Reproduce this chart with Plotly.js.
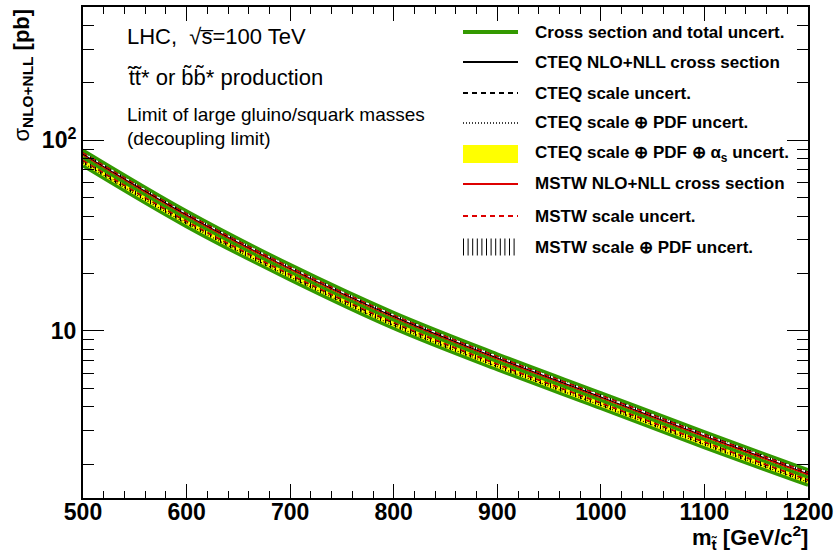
<!DOCTYPE html>
<html>
<head>
<meta charset="utf-8">
<script src="https://cdn.plot.ly/plotly-3.0.1.min.js"></script>
<style>html,body{margin:0;padding:0;background:#fff;}#chart{width:835px;height:558px;}</style>
</head>
<body>
<div id="chart"></div>
<script>
// ---- data ----
const mass = [500, 600, 700, 800, 900, 1000, 1100, 1200];
const totalCentral = [81.1, 38.9, 20.4, 11.4, 6.92, 4.33, 2.70, 1.71];
const totalUp      = [88.8, 42.6, 22.3, 12.5, 7.58, 4.74, 2.96, 1.87];
const totalDown    = [73.4, 35.2, 18.5, 10.3, 6.26, 3.92, 2.44, 1.55];
const cteqCentral  = [84.3, 40.5, 21.2, 11.9, 7.20, 4.50, 2.81, 1.78];
const cteqScaleUp  = [86.4, 41.4, 21.7, 12.1, 7.37, 4.61, 2.88, 1.82];
const cteqScaleDn  = [78.3, 37.5, 19.7, 11.0, 6.68, 4.18, 2.61, 1.65];
const cteqPdfUp    = [87.2, 41.8, 21.9, 12.3, 7.44, 4.65, 2.90, 1.84];
const cteqPdfDn    = [76.2, 36.6, 19.2, 10.7, 6.50, 4.07, 2.54, 1.61];
const cteqAsUp     = [83.9, 40.3, 21.1, 11.8, 7.16, 4.48, 2.79, 1.77];
const cteqAsDn     = [74.2, 35.6, 18.7, 10.4, 6.33, 3.96, 2.47, 1.56];
const mstwCentral  = [83.4, 40.0, 21.0, 11.7, 7.11, 4.45, 2.78, 1.76];
const mstwScaleUp  = [86.0, 41.2, 21.6, 12.1, 7.34, 4.59, 2.86, 1.81];
const mstwScaleDn  = [78.7, 37.7, 19.8, 11.1, 6.71, 4.20, 2.62, 1.66];
const mstwPdfUp    = [87.6, 42.0, 22.0, 12.3, 7.47, 4.68, 2.92, 1.85];
const mstwPdfDn    = [75.0, 36.0, 18.9, 10.5, 6.40, 4.01, 2.50, 1.58];

const yTickVals = [10, 100];
const yTickText = ['10', '10<sup>2</sup>'];
const yMinorVals = [2,3,4,5,6,7,8,9,20,30,40,50,60,70,80,90,200,300,400,500];

const legendLabels = [
  'Cross section and total uncert.',
  'CTEQ NLO+NLL cross section',
  'CTEQ scale uncert.',
  'CTEQ scale \u2295 PDF uncert.',
  'CTEQ scale \u2295 PDF \u2295 \u03b1<sub>s</sub> uncert.',
  'MSTW NLO+NLL cross section',
  'MSTW scale uncert.',
  'MSTW scale \u2295 PDF uncert.'
];

// ---- layout geometry ----
const W = 835, H = 558;
const L = 83, R = 808, T = 7, B = 498;
const px = x => (x - L) / (R - L);
const py = y => (B - y) / (B - T);
const FONT = 'Liberation Sans, Arial, Helvetica, sans-serif';

function line(y, color, width, dash) {
  return {x: mass, y: y, type: 'scatter', mode: 'lines', showlegend: false, hoverinfo: 'skip',
          line: {color: color, width: width, dash: dash || 'solid', shape: 'spline'}};
}
function bandLow(y) {
  return {x: mass, y: y, type: 'scatter', mode: 'lines', showlegend: false, hoverinfo: 'skip',
          line: {width: 0, shape: 'spline', color: 'rgba(0,0,0,0)'}};
}

const traces = [
  bandLow(cteqAsDn),
  {x: mass, y: cteqAsUp, type: 'scatter', mode: 'lines', fill: 'tonexty', fillcolor: '#ffff00',
   showlegend: false, hoverinfo: 'skip', line: {width: 0, shape: 'spline', color: 'rgba(0,0,0,0)'}},
  bandLow(mstwPdfDn),
  {x: mass, y: mstwPdfUp, type: 'scatter', mode: 'lines', fill: 'tonexty', fillcolor: 'rgba(0,0,0,0)',
   fillpattern: {shape: '|', fgcolor: '#000000', bgcolor: 'rgba(0,0,0,0)', size: 5, solidity: 0.2},
   showlegend: false, hoverinfo: 'skip', line: {width: 0, shape: 'spline', color: 'rgba(0,0,0,0)'}},
  line(cteqPdfUp, '#000000', 1.2, '1px,2px'),
  line(cteqPdfDn, '#000000', 1.2, '1px,2px'),
  line(cteqScaleUp, '#000000', 1.5, '5px,4px'),
  line(cteqScaleDn, '#000000', 1.5, '5px,4px'),
  line(mstwScaleUp, '#dd0000', 1.5, '5px,4px'),
  line(mstwScaleDn, '#dd0000', 1.5, '5px,4px'),
  line(cteqCentral, '#000000', 1.3),
  line(mstwCentral, '#dd0000', 1.3),
  line(totalUp, '#339900', 3.2),
  line(totalCentral, '#339900', 3.2),
  line(totalDown, '#339900', 3.2)
];

// ---- manual legend ----
const shapes = [];
const annotations = [];
const rowY = [32, 62, 93, 123, 154, 184, 216, 247];
const sx0 = 463, sx1 = 518;
function hline(y, color, width, dash) {
  shapes.push({type: 'line', xref: 'paper', yref: 'paper', x0: px(sx0), x1: px(sx1), y0: py(y), y1: py(y),
               line: {color: color, width: width, dash: dash || 'solid'}});
}
hline(rowY[0], '#339900', 4);
hline(rowY[1], '#000000', 2);
hline(rowY[2], '#000000', 2, '5px,4px');
hline(rowY[3], '#000000', 1.5, '1px,2px');
shapes.push({type: 'rect', xref: 'paper', yref: 'paper', x0: px(sx0), x1: px(sx1),
             y0: py(rowY[4] + 9), y1: py(rowY[4] - 9), fillcolor: '#ffff00', line: {width: 0}});
hline(rowY[5], '#dd0000', 2);
hline(rowY[6], '#dd0000', 2, '5px,4px');
for (let i = 0; i < 12; i++) {
  const xx = sx0 + 0.5 + i * 4.6;
  shapes.push({type: 'line', xref: 'paper', yref: 'paper', x0: px(xx), x1: px(xx),
               y0: py(rowY[7] + 8.5), y1: py(rowY[7] - 8.5), line: {color: '#000000', width: 1}});
}
legendLabels.forEach((t, i) => {
  annotations.push({text: t, xref: 'paper', yref: 'paper', x: px(533), y: py(rowY[i]),
    xanchor: 'left', yanchor: 'middle', showarrow: false,
    font: {family: FONT, size: 17, weight: 'bold', color: '#000'}});
});

// ---- descriptive texts ----
const txt = (t, y, size) => annotations.push({text: t, xref: 'paper', yref: 'paper', x: px(125), y: py(y),
  xanchor: 'left', yanchor: 'middle', showarrow: false, font: {family: FONT, size: size, color: '#000'}});
txt('LHC,  \u221As\u0305=100 TeV', 36, 22);
txt('t\u0303t\u0303* or b\u0303b\u0303* production', 78, 22);
txt('Limit of large gluino/squark masses', 114, 19);
txt('(decoupling limit)', 138, 19);

// axis titles
annotations.push({text: '\u03c3<sub><b>NLO+NLL</b></sub> <b>[pb]</b>', xref: 'paper', yref: 'paper',
  x: px(22), y: py(7), xanchor: 'center', yanchor: 'top', textangle: -90, showarrow: false,
  font: {family: FONT, size: 22, color: '#000'}});
annotations.push({text: '<b>m<sub>t\u0303</sub> [GeV/c<sup>2</sup>]</b>', xref: 'paper', yref: 'paper',
  x: px(810), y: py(520), xanchor: 'right', yanchor: 'top', showarrow: false,
  font: {family: FONT, size: 22, color: '#000'}});

const layout = {
  width: W, height: H,
  margin: {l: L, r: W - R, t: T, b: H - B, pad: 0},
  paper_bgcolor: '#ffffff', plot_bgcolor: '#ffffff',
  showlegend: false,
  font: {family: FONT, color: '#000'},
  xaxis: {
    range: [500, 1200], showgrid: false, zeroline: false,
    showline: true, linecolor: '#000', linewidth: 2, mirror: 'allticks',
    ticks: 'inside', ticklen: 14, tickwidth: 1, tickcolor: '#000', dtick: 100, tick0: 500,
    ticklabelstandoff: -8,
    minor: {ticks: 'inside', ticklen: 7, tickwidth: 1, tickcolor: '#000', dtick: 20, tick0: 500},
    tickfont: {family: FONT, size: 23, weight: 'bold', color: '#000'}
  },
  yaxis: {
    type: 'log', range: [Math.log10(1.33), Math.log10(500)], showgrid: false, zeroline: false,
    showline: true, linecolor: '#000', linewidth: 2, mirror: 'allticks',
    ticks: 'inside', ticklen: 21, tickwidth: 1, tickcolor: '#000',
    tickmode: 'array', tickvals: yTickVals, ticktext: yTickText,
    minor: {ticks: 'inside', ticklen: 11, tickwidth: 1, tickcolor: '#000', tickmode: 'array', tickvals: yMinorVals},
    tickfont: {family: FONT, size: 23, weight: 'bold', color: '#000'}
  },
  shapes: shapes,
  annotations: annotations
};

Plotly.newPlot('chart', traces, layout, {staticPlot: true, displayModeBar: false});
</script>
</body>
</html>
